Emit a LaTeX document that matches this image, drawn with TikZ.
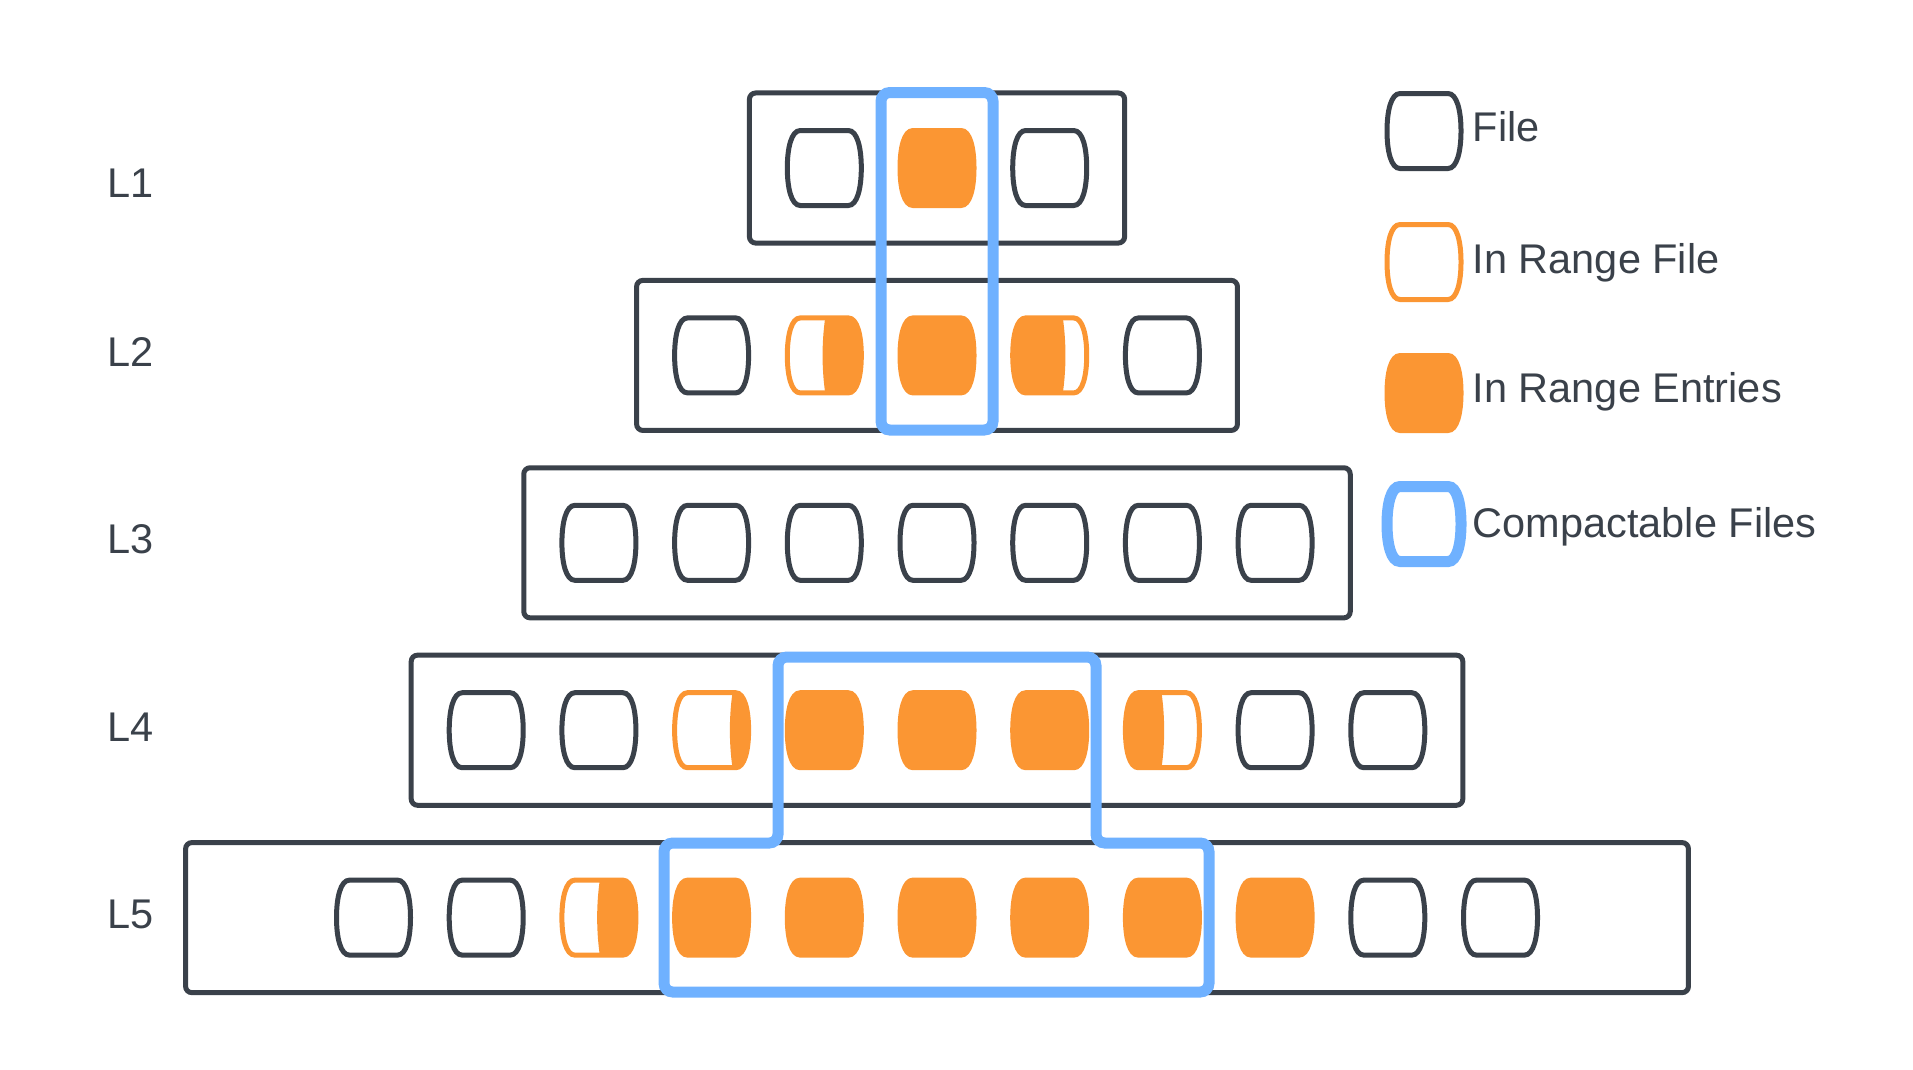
\documentclass[tikz,border=0pt]{standalone}
\usepackage{fontspec}
\setmainfont{Liberation Sans}
\definecolor{filegray}{RGB}{58,65,74}
\definecolor{rangeorange}{RGB}{251,150,51}
\definecolor{compactblue}{RGB}{111,177,255}
\usepackage{tikz}

% outline of one file, centred on the origin (units are pixels)
\newcommand{\barrelpath}{(-24,-37.5) -- (24,-37.5) .. controls (33,-37.5) and (37,-20) .. (37,0)
  .. controls (37,20) and (33,37.5) .. (24,37.5) -- (-24,37.5)
  .. controls (-33,37.5) and (-37,20) .. (-37,0) .. controls (-37,-20) and (-33,-37.5) .. cycle}

\tikzset{
  filestroke/.style={draw=filegray, line width=0.05cm, fill=white},
  levelbox/.style={draw=filegray, line width=0.05cm, rounded corners=1.8pt,
                   minimum height=1.50cm, inner sep=0pt},
  compactline/.style={draw=compactblue, line width=0.11cm, rounded corners=2.5pt},
  lvltext/.style={anchor=base west, inner sep=0pt, text=filegray,
                  font=\fontsize{11.8}{14}\selectfont},
  file/.pic={\draw[filestroke] \barrelpath;},
  rangefile/.pic={\draw[filestroke, draw=rangeorange] \barrelpath;},
  entries/.pic={\filldraw[draw=rangeorange, fill=rangeorange, line width=0.05cm] \barrelpath;},
  compactkey/.pic={\draw[draw=compactblue, line width=0.11cm, fill=white] \barrelpath;},
  partright/.pic={
    \begin{scope}
      \clip \barrelpath;
      \fill[rangeorange] (#1+2,-45) .. controls (#1-3,-15) and (#1-3,15) .. (#1+2,45)
        -- (45,45) -- (45,-45) -- cycle;
    \end{scope}
    \draw[draw=rangeorange, line width=0.05cm] \barrelpath;
  },
  partleft/.pic={
    \begin{scope}
      \clip \barrelpath;
      \fill[rangeorange] (#1-2,-45) .. controls (#1+3,-15) and (#1+3,15) .. (#1-2,45)
        -- (-45,45) -- (-45,-45) -- cycle;
    \end{scope}
    \draw[draw=rangeorange, line width=0.05cm] \barrelpath;
  },
}

\begin{document}
\begin{tikzpicture}[x=0.01cm, y=-0.01cm]
  \useasboundingbox (0,0) rectangle (1913,1069);

  % levels
  \node[levelbox, minimum width=3.75cm]  (lvl1) at (937,168) {};
  \node[levelbox, minimum width=6.005cm] (lvl2) at (937,355.4) {};
  \node[levelbox, minimum width=8.26cm]  (lvl3) at (937,542.8) {};
  \node[levelbox, minimum width=10.51cm] (lvl4) at (937,730.2) {};
  \node[levelbox, minimum width=15.02cm] (lvl5) at (937,917.6) {};

  \node[lvltext] (lbl1) at (107,197) {L1};
  \node[lvltext] (lbl2) at (107,366) {L2};
  \node[lvltext] (lbl3) at (107,553.5) {L3};
  \node[lvltext] (lbl4) at (107,741) {L4};
  \node[lvltext] (lbl5) at (107,928) {L5};

  % L1
  \foreach \c in {-1,1} \pic at ({937+112.7*\c},168) {file};
  \pic at (937,168) {entries};
  % L2
  \foreach \c in {-2,2} \pic at ({937+112.7*\c},355.4) {file};
  \pic at (824.3,355.4) {partright=0};
  \pic at (937,355.4) {entries};
  \pic at (1049.7,355.4) {partleft=14};
  % L3
  \foreach \c in {-3,...,3} \pic at ({937+112.7*\c},542.8) {file};
  % L4
  \foreach \c in {-4,-3,3,4} \pic at ({937+112.7*\c},730.2) {file};
  \pic at (711.6,730.2) {partright=20};
  \foreach \c in {-1,0,1} \pic at ({937+112.7*\c},730.2) {entries};
  \pic at (1162.4,730.2) {partleft=0};
  % L5
  \foreach \c in {-5,-4,4,5} \pic at ({937+112.7*\c},917.6) {file};
  \pic at (598.9,917.6) {partright=0};
  \foreach \c in {-2,...,3} \pic at ({937+112.7*\c},917.6) {entries};

  % compactable files
  \draw[compactline] (881,92.5) rectangle (993,430);
  \draw[compactline] (778,657) -- (1096,657) -- (1096,843) -- (1209,843) -- (1209,992)
    -- (664,992) -- (664,843) -- (778,843) -- cycle;

  % legend
  \pic at (1424,131) {file};
  \pic at (1424,262) {rangefile};
  \pic at (1424,393) {entries};
  \pic at (1424,524) {compactkey};
  \node[lvltext] (keyfile) at (1472,141) {File};
  \node[lvltext] (keyrange) at (1472,273) {In Range File};
  \node[lvltext] (keyentries) at (1472,402) {In Range Entries};
  \node[lvltext] (keycompact) at (1472,537) {Compactable Files};
\end{tikzpicture}
\end{document}
